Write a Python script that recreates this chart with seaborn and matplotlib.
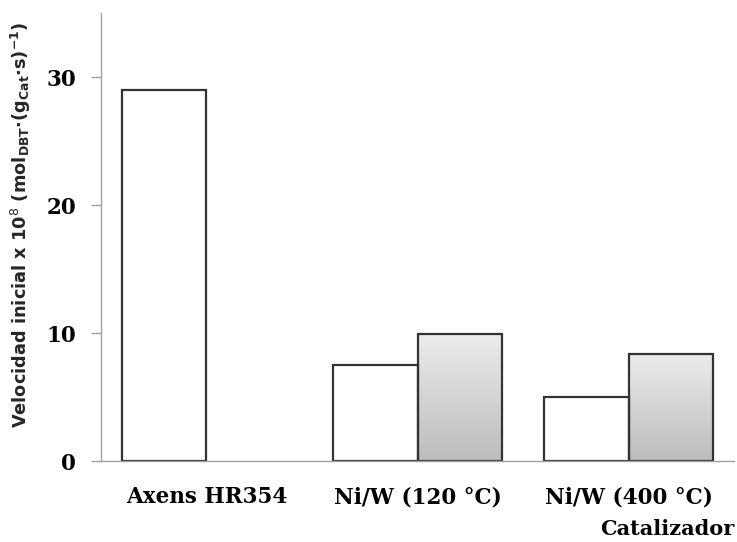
import numpy as np
import pandas as pd
import matplotlib
matplotlib.use("Agg")
import matplotlib.pyplot as plt
import seaborn as sns

# data
catalysts = ["Axens HR354", "Ni/W (120 °C)", "Ni/W (400 °C)"]
serie_a = [29.0, 7.5, 5.0]
serie_b = [np.nan, 9.9, 8.4]

df = pd.DataFrame({
    "Catalizador": catalysts * 2,
    "Serie": ["a"] * 3 + ["b"] * 3,
    "Velocidad": serie_a + serie_b,
})

sns.set_theme(style="white")
plt.rcParams["font.family"] = ["DejaVu Serif"]
plt.rcParams["text.color"] = "black"
plt.rcParams["xtick.labelcolor"] = "black"
plt.rcParams["ytick.labelcolor"] = "black"

fig = plt.figure(figsize=(7.37, 5.42), dpi=100)
ax = fig.add_axes([0.137, 0.149, 0.859, 0.827])

sns.barplot(data=df, x="Catalizador", y="Velocidad", hue="Serie",
            palette=["white", "#d0d0d0"], edgecolor="#333333", linewidth=1.6,
            width=0.8, legend=False, errorbar=None, ax=ax)

# gradient fill for the second series
grad = np.linspace(0, 1, 256).reshape(-1, 1)
cmap = matplotlib.colors.LinearSegmentedColormap.from_list("g", ["#bcbcbc", "#ececec"])
for bar in ax.containers[1]:
    h = bar.get_height()
    if np.isnan(h) or h == 0:
        continue
    x0 = bar.get_x()
    w = bar.get_width()
    bar.set_facecolor("none")
    im = ax.imshow(grad, extent=[x0, x0 + w, 0, h], origin="lower",
                   cmap=cmap, aspect="auto", zorder=bar.get_zorder() - 0.1)
    im.set_clip_path(bar)

ax.set_xlim(-0.5, 2.5)
ax.set_ylim(0, 35)
ax.set_yticks([0, 10, 20, 30])
ax.set_yticklabels(["0", "10", "20", "30"], fontsize=15.5, fontweight="bold")
ax.set_xticks(range(3))
ax.set_xticklabels(catalysts, fontsize=15.5, fontweight="bold")
ax.set_xticks([-0.5, 0.5, 1.5, 2.5], minor=True)
ax.tick_params(axis="x", which="major", length=0, pad=18)
ax.tick_params(axis="x", which="minor", length=8, color="#a0a0a0", width=1, direction="out")
ax.tick_params(axis="y", length=7, color="#a0a0a0", width=1, direction="out", left=True, pad=11)

for s in ["top", "right"]:
    ax.spines[s].set_visible(False)
for s in ["left", "bottom"]:
    ax.spines[s].set_color("#a0a0a0")
    ax.spines[s].set_linewidth(1)

ax.set_xlabel("")
ax.set_ylabel(r"Velocidad inicial x 10$^{8}$ (mol$_{\mathregular{DBT}}$·(g$_{\mathregular{Cat}}$·s)$^{\mathregular{-1}}$)",
              fontsize=12.8, fontweight="bold", family="DejaVu Sans")
ax.yaxis.set_label_coords(-0.108, 0.527)
fig.text(0.996, 0.024, "Catalizador", ha="right", va="center",
         fontsize=15, fontweight="bold")

fig.savefig("out.png", dpi=100)
